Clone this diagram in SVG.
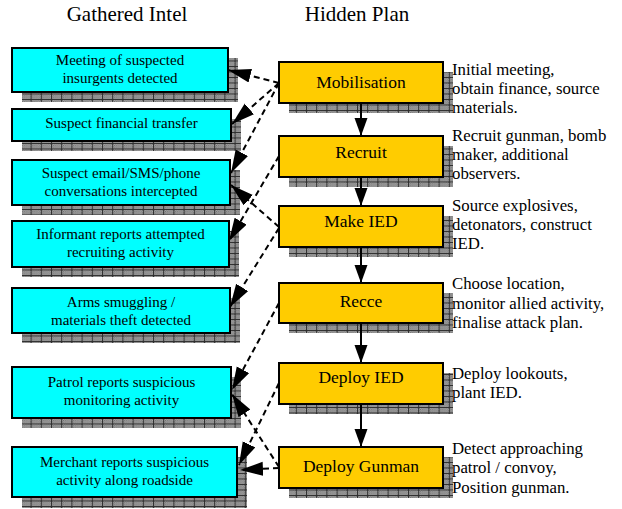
<svg xmlns="http://www.w3.org/2000/svg" width="622" height="509" viewBox="0 0 622 509">
<style>
text{font-family:'Liberation Serif','Times New Roman',serif;fill:#000}
.title{font-size:21px;text-anchor:middle}
.bl{font-size:15px;text-anchor:middle}
.or{font-size:17.5px;text-anchor:middle}
.note{font-size:16.8px}
.bbox{fill:#00ffff;stroke:#000;stroke-width:2}
.obox{fill:#ffcc00;stroke:#000;stroke-width:2}
.sh{fill:url(#grid)}
.dash{fill:none;stroke:#000;stroke-width:2;stroke-dasharray:6 4;marker-end:url(#bigHead)}
.solid{fill:none;stroke:#000;stroke-width:2;marker-end:url(#smallHead)}
</style>
<defs>
<pattern id="dots" width="2" height="2" patternUnits="userSpaceOnUse"><rect width="2" height="2" fill="#c4c4c4"/><rect width="1" height="1" fill="#5c5c5c"/><rect x="1" y="1" width="1" height="1" fill="#5c5c5c"/></pattern>
<pattern id="grid" width="10.2" height="5.5" patternUnits="userSpaceOnUse"><rect width="10.2" height="5.5" fill="url(#dots)"/><path d="M0 0.5H10.2M0.5 0V5.5" stroke="#2e2e2e" stroke-width="1"/></pattern>
<marker id="bigHead" markerUnits="userSpaceOnUse" markerWidth="24" markerHeight="16" refX="23" refY="7" orient="auto"><path d="M0 0L23 7L0 14Z" fill="#000"/></marker>
<marker id="smallHead" markerUnits="userSpaceOnUse" markerWidth="20" markerHeight="16" refX="18" refY="6.5" orient="auto"><path d="M0 0L18 6.5L0 13Z" fill="#000"/></marker>
</defs>
<rect width="622" height="509" fill="#fff"/>
<text class="title" x="127" y="21">Gathered Intel</text>
<text class="title" x="357" y="21">Hidden Plan</text>

<g id="intel1"><rect class="sh" x="22" y="58" width="216" height="44"/><rect class="bbox" x="12" y="48" width="216" height="44"/><text class="bl" x="120" y="65">Meeting of suspected</text><text class="bl" x="120" y="83">insurgents detected</text></g>
<g id="intel2"><rect class="sh" x="22" y="119" width="219" height="32"/><rect class="bbox" x="12" y="109" width="219" height="32"/><text class="bl" x="121.5" y="128">Suspect financial transfer</text></g>
<g id="intel3"><rect class="sh" x="22" y="170" width="218" height="45"/><rect class="bbox" x="12" y="160" width="218" height="45"/><text class="bl" x="121" y="178">Suspect email/SMS/phone</text><text class="bl" x="121" y="196">conversations intercepted</text></g>
<g id="intel4"><rect class="sh" x="22" y="231" width="217" height="46"/><rect class="bbox" x="12" y="221" width="217" height="46"/><text class="bl" x="120.5" y="239">Informant reports attempted</text><text class="bl" x="120.5" y="257">recruiting activity</text></g>
<g id="intel5"><rect class="sh" x="22" y="298" width="218" height="45"/><rect class="bbox" x="12" y="288" width="218" height="45"/><text class="bl" x="121" y="306.5">Arms smuggling /</text><text class="bl" x="121" y="324.5">materials theft detected</text></g>
<g id="intel6"><rect class="sh" x="22" y="377" width="219" height="51"/><rect class="bbox" x="12" y="367" width="219" height="51"/><text class="bl" x="121.5" y="387">Patrol reports suspicious</text><text class="bl" x="121.5" y="405">monitoring activity</text></g>
<g id="intel7"><rect class="sh" x="22" y="457" width="225" height="51"/><rect class="bbox" x="12" y="447" width="225" height="50"/><text class="bl" x="124.5" y="467">Merchant reports suspicious</text><text class="bl" x="124.5" y="485">activity along roadside</text></g>

<g id="plan1"><rect class="sh" x="289" y="72" width="164" height="41"/><rect class="obox" x="279" y="62" width="164" height="41"/><text class="or" x="361" y="88">Mobilisation</text></g>
<g id="plan2"><rect class="sh" x="289" y="146" width="164" height="41"/><rect class="obox" x="279" y="136" width="164" height="41"/><text class="or" x="361" y="158">Recruit</text></g>
<g id="plan3"><rect class="sh" x="289" y="216" width="164" height="41"/><rect class="obox" x="279" y="206" width="164" height="41"/><text class="or" x="361" y="227">Make IED</text></g>
<g id="plan4"><rect class="sh" x="289" y="293" width="164" height="40"/><rect class="obox" x="279" y="283" width="164" height="40"/><text class="or" x="361" y="307">Recce</text></g>
<g id="plan5"><rect class="sh" x="289" y="373" width="164" height="41"/><rect class="obox" x="279" y="363" width="164" height="41"/><text class="or" x="361" y="383">Deploy IED</text></g>
<g id="plan6"><rect class="sh" x="289" y="457" width="164" height="41"/><rect class="obox" x="279" y="447" width="164" height="41"/><text class="or" x="361" y="472">Deploy Gunman</text></g>

<g id="notes">
<text class="note" x="452" y="75">Initial meeting,</text><text class="note" x="452" y="94">obtain finance, source</text><text class="note" x="452" y="113">materials.</text>
<text class="note" x="452" y="141">Recruit gunman, bomb</text><text class="note" x="452" y="160">maker, additional</text><text class="note" x="452" y="179">observers.</text>
<text class="note" x="452" y="211">Source explosives,</text><text class="note" x="452" y="230">detonators, construct</text><text class="note" x="452" y="249">IED.</text>
<text class="note" x="452" y="289">Choose location,</text><text class="note" x="452" y="308.5">monitor allied activity,</text><text class="note" x="452" y="328">finalise attack plan.</text>
<text class="note" x="452" y="379">Deploy lookouts,</text><text class="note" x="452" y="398">plant IED.</text>
<text class="note" x="452" y="454">Detect approaching</text><text class="note" x="452" y="473">patrol / convoy,</text><text class="note" x="452" y="493">Position gunman.</text>
</g>

<g id="connectors">
<path class="solid" d="M361 103V136"/>
<path class="solid" d="M361 177V206"/>
<path class="solid" d="M361 247V283"/>
<path class="solid" d="M361 323V363"/>
<path class="solid" d="M361 404V447"/>
<path class="dash" d="M279 83L228 70"/>
<path class="dash" d="M279 83L232 124"/>
<path class="dash" d="M279 83L231 173"/>
<path class="dash" d="M279 156L229 241"/>
<path class="dash" d="M279 227L231 185"/>
<path class="dash" d="M279 228L230 307"/>
<path class="dash" d="M279 303L232 390"/>
<path class="dash" d="M279 383L239 465"/>
<path class="dash" d="M279 467L232 394"/>
<path class="dash" d="M279 468L240 470"/>
</g>
</svg>
